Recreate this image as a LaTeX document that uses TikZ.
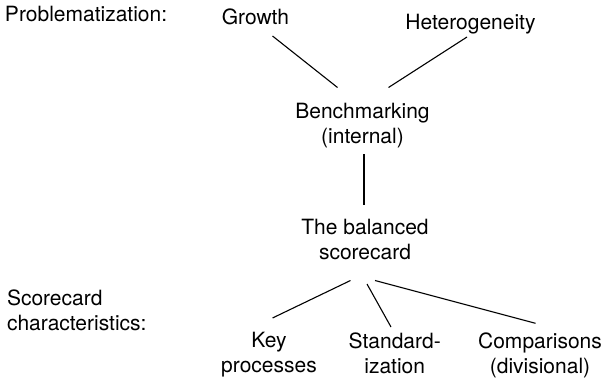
\documentclass[tikz,border=0pt]{standalone}
\usepackage{fontspec}
\setmainfont{TeX Gyre Heros}
\newcommand\twolinesc[2]{\begin{tabular}[t]{@{}c@{}}#1\\#2\end{tabular}}
\newcommand\twolinesl[2]{\begin{tabular}[t]{@{}l@{}}#1\\#2\end{tabular}}
\begin{document}
\begin{tikzpicture}[x=1pt,y=1pt,
  lbl/.style={inner sep=0pt,outer sep=0pt,font=\fontsize{21}{25}\selectfont},
  conn/.style={line width=1.1pt}]
\useasboundingbox (0,0) rectangle (605,-380);
% nodes
\node[lbl,anchor=base west] (prob) at (5,-21) {Problematization:};
\node[lbl,anchor=base] (growth) at (255.5,-24) {Growth};
\node[lbl,anchor=base] (het) at (470.5,-29) {Heterogeneity};
\node[lbl,anchor=base] (bench) at (362.5,-118) {\twolinesc{Benchmarking}{(internal)}};
\node[lbl,anchor=base] (bsc) at (365,-234) {\twolinesc{The balanced}{scorecard}};
\node[lbl,anchor=base west] (chars) at (7,-305) {\twolinesl{Scorecard}{characteristics:}};
\node[lbl,anchor=base] (key) at (269,-347) {\twolinesc{Key}{processes}};
\node[lbl,anchor=base] (std) at (394.7,-348) {\twolinesc{Standard-}{ization}};
\node[lbl,anchor=base] (comp) at (540,-348) {\twolinesc{Comparisons}{(divisional)}};
% connector ends
\coordinate (gB) at ([shift={(17,-12)}]growth.base);
\coordinate (hB) at ([shift={(-3.5,-8)}]het.base);
\coordinate (bTL) at ([shift={(-25,30.5)}]bench.base);
\coordinate (bTR) at ([shift={(26,30.5)}]bench.base);
\coordinate (bB) at ([shift={(1.5,-36)}]bench.base);
\coordinate (sT) at ([shift={(-1,29)}]bsc.base);
\coordinate (sB1) at ([shift={(-14.5,-46.5)}]bsc.base);
\coordinate (sB2) at ([shift={(2,-50)}]bsc.base);
\coordinate (sB3) at ([shift={(10,-46.5)}]bsc.base);
\coordinate (kT) at ([shift={(3.5,29)}]key.base);
\coordinate (stT) at ([shift={(-3.7,21)}]std.base);
\coordinate (cT) at ([shift={(-4.5,24.7)}]comp.base);
% connectors
\draw[conn] (gB) -- (bTL);
\draw[conn] (hB) -- (bTR);
\draw[conn] (bB) -- (sT);
\draw[conn] (sB1) -- (kT);
\draw[conn] (sB2) -- (stT);
\draw[conn] (sB3) -- (cT);
\end{tikzpicture}
\end{document}
